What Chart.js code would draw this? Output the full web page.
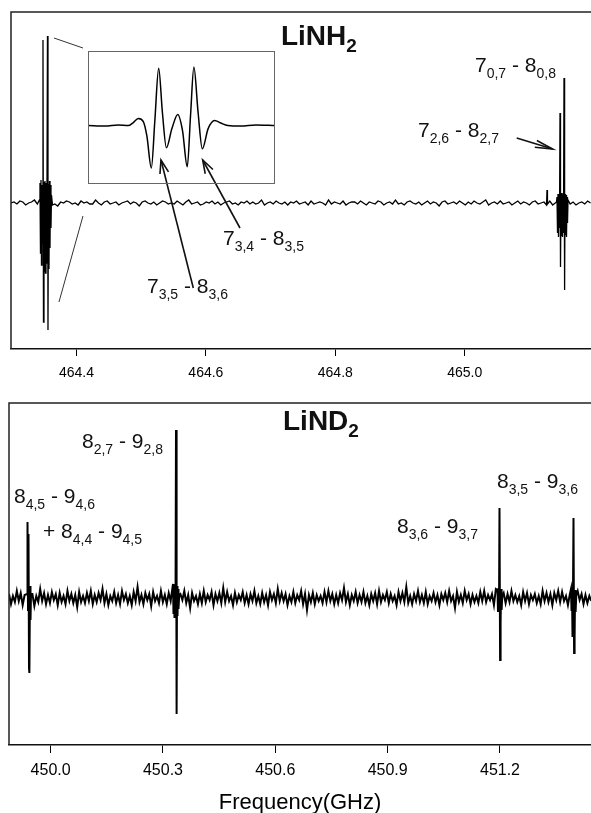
<!DOCTYPE html>
<html><head><meta charset="utf-8">
<script src="https://cdn.jsdelivr.net/npm/chart.js@4.4.0/dist/chart.umd.min.js"></script>
<style>
html,body{margin:0;padding:0;background:#fff;width:591px;height:813px;overflow:hidden;}
#wrap{position:relative;width:591px;height:813px;overflow:hidden;}
canvas{position:absolute;}
</style></head><body>
<div id="wrap">
<canvas id="top" width="591" height="385" style="left:0;top:0;width:591px;height:385px"></canvas>
<canvas id="bot" width="591" height="440" style="left:0;top:385px;width:591px;height:440px"></canvas>
<canvas id="inset" width="187" height="133" style="left:88px;top:51px;width:187px;height:133px"></canvas>
</div>
<script>
// ---------------- DATA ----------------
// LiNH2 panel (frequency GHz, intensity arb.)
const nh2Ticks = [464.4, 464.6, 464.8, 465.0];
const nh2FreqRange = [464.2988, 465.1952];
const nh2IntRange = [-146, 191];
const nh2NoiseStart = 464.299;
const nh2NoiseStep = 0.0045;
const nh2Noise = [0,1,-1,2,1,-2,0,1,3,-1,0,-2,1,0,2,-1,-3,1,0,2,
 1,-1,0,-2,2,0,1,-1,-1,3,0,-2,1,2,-1,0,1,-2,0,1,
 2,-1,1,0,-3,1,2,0,-1,1,-2,0,2,1,-1,0,-1,2,0,-2,
 1,3,-1,0,1,-2,-1,1,0,2,-1,1,-2,0,1,2,-1,0,-2,1,
 0,2,-1,1,-1,0,3,-2,0,1,-1,2,0,-1,1,-2,1,0,2,-1,
 0,1,-2,2,-1,0,1,0,-2,3,-1,1,0,-1,2,-2,0,1,1,-1,
 2,0,-2,1,0,-1,2,1,-2,0,1,-1,3,-1,0,-2,1,2,0,-1,
 1,-2,0,2,-1,1,0,-3,1,2,-1,0,1,-1,2,0,-2,1,-1,2,
 0,-1,1,3,-2,0,1,-1,2,-1,0,1,-2,0,2,-1,1,0,-2,1,
 2,-1,0,1,-1,2,-2,0,1,-1,0,2,-1,1,-2,0,1,-1,2,0];
// 7(3,5)-8(3,6) / 7(3,4)-8(3,5) group
const nh2LineK3 = [[464.34282,3],[464.34359,20],[464.34436,-50],[464.34514,23],[464.34591,-62],[464.34668,18],[464.34746,-40],[464.34823,163],[464.34900,-119],[464.34977,21],[464.35055,-68],[464.35132,22],[464.35209,-70],[464.35287,20],[464.35364,-60],[464.35441,15],[464.35518,167],[464.35596,-127],[464.35673,19],[464.35750,-66],[464.35828,22],[464.35905,-45],[464.35982,18],[464.36059,-25],[464.36137,8],[464.36291,-2]];
const nh2Spike = [[465.12650,-2],[465.12720,13],[465.12790,-1]];
// 7(2,6)-8(2,7) and 7(0,7)-8(0,8)
const nh2LineK0 = [[465.14189,1],[465.14266,6],[465.14343,-30],[465.14420,9],[465.14498,-34],[465.14575,8],[465.14652,-25],[465.14730,90],[465.14807,-64],[465.14884,10],[465.14961,-33],[465.15039,9],[465.15116,-34],[465.15193,10],[465.15270,-30],[465.15348,125],[465.15440,-87],[465.15502,9],[465.15580,-32],[465.15657,8],[465.15734,-34],[465.15811,6],[465.15889,-20],[465.15966,3]];

// Inset (frequency offset MHz, intensity)
const insetFreq = [-12.0,-9.81,-8.13,-6.84,-6.19,-5.55,-4.90,-4.45,-3.87,-3.42,-2.93,-2.45,-1.94,-1.23,-0.48,0.13,0.74,1.16,1.59,2.13,2.67,3.42,4.26,5.03,5.94,7.61,9.55,12.0];
const insetVals = [0,-0.5,0.5,0,3,7,4,-10,-42,5,57,13,-22,-3,11,-5,-41,10,58,13,-23,-3,5,2.5,0,-0.5,0.5,0];
const insetFreqRange = [-12, 12];
const insetIntRange = [-58, 74];

// LiND2 panel
const nd2Ticks = [450.0, 450.3, 450.6, 450.9, 451.2];
const nd2FreqRange = [449.8889, 451.443];
const nd2IntRange = [-147, 195];
const nd2NoiseStart = 449.889;
const nd2NoiseStep = 0.0052;
const nd2Noise = [4,-6,2,-4,7,-3,5,-7,3,-2,6,-5,4,-8,2,-4,9,-3,5,-6,
 3,-5,6,-2,4,-7,5,-4,2,-6,7,-3,4,-5,3,-9,6,-4,2,-5,
 5,-3,7,-6,3,-4,5,-2,9,-5,4,-7,2,-3,6,-5,3,-6,7,-2,
 4,-5,2,-7,6,-3,11,-4,3,-6,5,-2,4,-8,6,-3,2,-5,7,-4,
 3,-6,5,-3,2,-7,6,-4,4,-2,7,-5,3,-10,5,-3,2,-6,4,-5,
 7,-4,3,-2,6,-7,4,-3,5,-5,10,-4,6,-3,2,-7,5,-4,3,-2,
 6,-5,3,-6,4,-3,7,-5,2,-6,5,-4,3,-7,6,-2,4,-5,9,-3,
 5,-3,4,-7,2,-4,6,-5,3,-2,7,-6,4,-12,3,-4,5,-6,3,-3,
 2,-5,6,-4,7,-3,4,-6,3,-5,5,-2,10,-4,4,-7,3,-3,6,-5,
 3,-4,6,-5,2,-7,4,-3,5,-6,7,-4,3,-2,6,-5,4,-3,2,-7,
 6,-3,5,-4,11,-5,2,-6,4,-3,7,-4,3,-5,6,-6,2,-3,5,-4,
 3,-7,4,-2,5,-4,7,-3,2,-10,6,-4,3,-5,7,-2,4,-6,3,-4,
 2,-5,6,-3,7,-4,3,-2,4,-7,9,-3,2,-6,5,-5,4,-4,7,-3,
 3,-4,2,-7,6,-3,5,-6,3,-2,4,-5,2,-6,7,-3,5,-4,4,-7,
 5,-2,7,-4,6,-3,2,-7,4,-4,3,-5,7,-2,4,-6,3,-5,2,-3];
const nd2LineK4 = [[449.93698,4],[449.93832,76],[449.93965,-12],[449.94099,64],[449.94232,-70],[449.94300,4],[449.94366,-75],[449.94499,12],[449.94633,-22],[449.94766,4]];
const nd2LineK2 = [[450.32684,14],[450.32817,-16],[450.32951,13],[450.33084,-20],[450.33218,10],[450.33351,-14],[450.33485,168],[450.33645,-116],[450.33752,12],[450.33885,-18],[450.34019,9],[450.34152,-11],[450.34339,3]];
const nd2LineK3a = [[451.19332,8],[451.19466,-14],[451.19599,10],[451.19733,-12],[451.19866,90],[451.20027,-62],[451.20160,-25],[451.20294,9],[451.20427,-12],[451.20614,2]];
const nd2LineK3b = [[451.38959,9],[451.39092,-12],[451.39226,10],[451.39359,-38],[451.39493,6],[451.39626,80],[451.39786,-55],[451.39920,-40],[451.40053,8],[451.40187,-14],[451.40374,3]];

// ---------------- ANNOTATIONS (data coordinates) ----------------
const nh2Notes = [
 {at:[464.71607,158], parts:[["LiNH",0],["2",1]], bold:true},
 {at:[465.01592,131], parts:[["7",0],["0,7",1],[" - 8",0],["0,8",1]]},
 {at:[464.92782,66], parts:[["7",0],["2,6",1],[" - 8",0],["2,7",1]]},
 {at:[464.62643,-42], parts:[["7",0],["3,4",1],[" - 8",0],["3,5",1]]},
 {at:[464.50896,-90], parts:[["7",0],["3,5",1],[" - 8",0],["3,6",1]]}
];
const nh2Arrows = [[464.58053,-85,464.5306,43],[464.65270,-25,464.59505,43],[465.08037,65,465.13601,54]];
const nh2ZoomLines = [[464.36522,165,464.41005,155],[464.41005,-13,464.37295,-99]];
const nd2Notes = [
 {at:[450.62056,168], parts:[["LiND",0],["2",1]], bold:true},
 {at:[450.08385,150], parts:[["8",0],["2,7",1],[" - 9",0],["2,8",1]]},
 {at:[449.90227,95], parts:[["8",0],["4,5",1],[" - 9",0],["4,6",1]]},
 {at:[449.97971,60], parts:[["+ 8",0],["4,4",1],[" - 9",0],["4,5",1]]},
 {at:[451.19199,110], parts:[["8",0],["3,5",1],[" - 9",0],["3,6",1]]},
 {at:[450.92497,65], parts:[["8",0],["3,6",1],[" - 9",0],["3,7",1]]}
];

// ---------------- BUILD ----------------
const FONT = '"Liberation Sans", Arial, Helvetica, sans-serif';
function buildTrace(start, step, noise, lines) {
  const ranges = lines.map(p => [p[0][0], p[p.length-1][0]]);
  const pts = [];
  noise.forEach((v, i) => {
    const x = start + i * step;
    if (!ranges.some(r => x >= r[0] - step*0.5 && x <= r[1] + step*0.5)) pts.push({x, y: v});
  });
  lines.forEach(p => p.forEach(([x, y]) => pts.push({x, y})));
  pts.sort((a, b) => a.x - b.x);
  return pts;
}
const nh2Trace = buildTrace(nh2NoiseStart, nh2NoiseStep, nh2Noise, [nh2LineK3, nh2Spike, nh2LineK0]);
const nd2Trace = buildTrace(nd2NoiseStart, nd2NoiseStep, nd2Noise, [nd2LineK4, nd2LineK2, nd2LineK3a, nd2LineK3b]);

function drawRich(ctx, x, y, parts, bold) {
  const big = bold ? 28 : 21, small = bold ? 19 : 14, drop = bold ? 7 : 6;
  const w = bold ? 'bold ' : '';
  let cx = x;
  ctx.textBaseline = 'alphabetic';
  ctx.textAlign = 'left';
  for (const [t, sub] of parts) {
    ctx.font = w + (sub ? small : big) + 'px ' + FONT;
    ctx.fillText(t, cx, sub ? y + drop : y);
    cx += ctx.measureText(t).width;
  }
}
function arrow(ctx, x1, y1, x2, y2, len, ang) {
  ctx.beginPath(); ctx.moveTo(x1, y1); ctx.lineTo(x2, y2); ctx.stroke();
  const a = Math.atan2(y2 - y1, x2 - x1);
  ctx.beginPath();
  ctx.moveTo(x2 - len * Math.cos(a - ang), y2 - len * Math.sin(a - ang));
  ctx.lineTo(x2, y2);
  ctx.lineTo(x2 - len * Math.cos(a + ang), y2 - len * Math.sin(a + ang));
  ctx.stroke();
}
function makeAnno(id, notes, arrows, zoomLines) {
  return {
    id,
    afterDraw(chart) {
      const {ctx, chartArea: a, scales: {x, y}} = chart;
      ctx.save();
      ctx.strokeStyle = '#222'; ctx.lineWidth = 1.5;
      ctx.beginPath(); ctx.moveTo(a.left, a.bottom); ctx.lineTo(a.left, a.top); ctx.lineTo(a.right, a.top); ctx.stroke();
      ctx.strokeStyle = '#333'; ctx.lineWidth = 1;
      zoomLines.forEach(([x1, y1, x2, y2]) => {
        ctx.beginPath(); ctx.moveTo(x.getPixelForValue(x1), y.getPixelForValue(y1));
        ctx.lineTo(x.getPixelForValue(x2), y.getPixelForValue(y2)); ctx.stroke();
      });
      ctx.strokeStyle = '#111'; ctx.lineWidth = 1.6;
      arrows.forEach(([x1, y1, x2, y2], i) => {
        arrow(ctx, x.getPixelForValue(x1), y.getPixelForValue(y1), x.getPixelForValue(x2), y.getPixelForValue(y2), i === 2 ? 18 : 14, i === 2 ? 0.2 : 0.32);
      });
      ctx.fillStyle = '#111';
      notes.forEach(n => drawRich(ctx, x.getPixelForValue(n.at[0]), y.getPixelForValue(n.at[1]), n.parts, n.bold));
      ctx.restore();
    }
  };
}
function xAxis(range, ticks, fontSize, tickLen, pad, height, title) {
  return {
    type: 'linear', min: range[0], max: range[1],
    afterBuildTicks: s => { s.ticks = ticks.map(v => ({value: v})); },
    afterFit: s => { s.height = height; },
    grid: {display: true, drawOnChartArea: false, drawTicks: true, tickLength: tickLen, color: '#000', lineWidth: 1},
    border: {display: true, color: '#111', width: 1.5},
    ticks: {color: '#000', font: {size: fontSize, family: FONT}, padding: pad, maxRotation: 0, autoSkip: false,
      callback: v => Number(v).toFixed(1)},
    title: title || {display: false}
  };
}
const common = {responsive: false, animation: false, events: [],
  plugins: {legend: {display: false}, tooltip: {enabled: false}}};

new Chart(document.getElementById('top'), {
  type: 'line',
  data: {datasets: [{data: nh2Trace, borderColor: '#000', borderWidth: 1.3, pointRadius: 0, tension: 0, fill: false}]},
  options: Object.assign({}, common, {
    layout: {padding: {left: 11, top: 12, right: 0, bottom: 0}},
    scales: {x: xAxis(nh2FreqRange, nh2Ticks, 14, 7, 9, 36), y: {display: false, min: nh2IntRange[0], max: nh2IntRange[1]}}
  }),
  plugins: [makeAnno('a1', nh2Notes, nh2Arrows, nh2ZoomLines)]
});

new Chart(document.getElementById('bot'), {
  type: 'line',
  data: {datasets: [{data: nd2Trace, borderColor: '#000', borderWidth: 2, pointRadius: 0, tension: 0, fill: false}]},
  options: Object.assign({}, common, {
    layout: {padding: {left: 9, top: 18, right: 0, bottom: 0}},
    scales: {x: xAxis(nd2FreqRange, nd2Ticks, 16, 8, 8, 80,
      {display: true, text: 'Frequency(GHz)', color: '#000', font: {size: 22, family: FONT}, padding: {top: 0, bottom: 9}}),
      y: {display: false, min: nd2IntRange[0], max: nd2IntRange[1]}}
  }),
  plugins: [makeAnno('a2', nd2Notes, [], [])]
});

new Chart(document.getElementById('inset'), {
  type: 'line',
  data: {datasets: [{data: insetFreq.map((f, i) => ({x: f, y: insetVals[i]})), borderColor: '#000', borderWidth: 1.5,
    pointRadius: 0, cubicInterpolationMode: 'monotone', fill: false}]},
  options: Object.assign({}, common, {
    layout: {padding: 0},
    scales: {x: {type: 'linear', display: false, min: insetFreqRange[0], max: insetFreqRange[1]},
             y: {display: false, min: insetIntRange[0], max: insetIntRange[1]}}
  }),
  plugins: [{id: 'frame', afterDraw(chart) {
    const ctx = chart.ctx; ctx.save(); ctx.strokeStyle = '#666'; ctx.lineWidth = 1;
    ctx.strokeRect(0.5, 0.5, chart.width - 1, chart.height - 1); ctx.restore();
  }}]
});
</script>
</body></html>
